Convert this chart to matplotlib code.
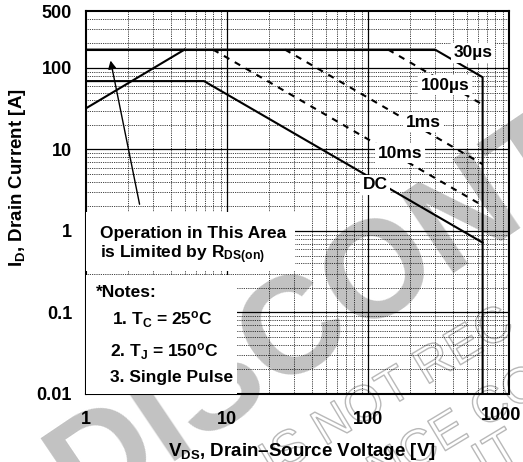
import matplotlib
matplotlib.use("Agg")
import matplotlib.pyplot as plt
import matplotlib.patheffects as pe
from matplotlib.patches import Rectangle
from matplotlib.ticker import LogLocator, NullFormatter, FixedLocator

plt.rcParams['font.family'] = ['Liberation Sans', 'DejaVu Sans']
plt.rcParams['font.weight'] = 'bold'
plt.rcParams['axes.labelweight'] = 'bold'
plt.rcParams['mathtext.fontset'] = 'custom'
plt.rcParams['mathtext.rm'] = 'Liberation Sans:bold'
plt.rcParams['mathtext.bf'] = 'Liberation Sans:bold'
plt.rcParams['mathtext.it'] = 'Liberation Sans:bold'

# limite por Rds(on)
rds_v = [1, 5.0]
rds_i = [32, 168]

# curvas de pulso (V, I)
v_30us = [1, 299, 650, 650]
i_30us = [168, 168, 77, 0.01]
v_100us = [139, 650]
i_100us = [168, 35.5]
v_1ms = [25.8, 650]
i_1ms = [168, 6.6]
v_10ms = [7.97, 650]
i_10ms = [168, 2.05]
v_dc = [1, 6.87, 650]
i_dc = [69, 69, 0.72]

curve_labels = ["30\u00b5s", "100\u00b5s", "1ms", "10ms", "DC"]
label_v = [556, 352, 246, 169, 112]
label_i = [153, 61.8, 21.7, 9.0, 3.67]

xticks = [1, 10, 100, 1000]
xticklabels = ["1", "10", "100", ""]
yticks = [0.01, 0.1, 1, 10, 100, 500]
yticklabels = ["0.01", "0.1", "1", "10", "100", "500"]

fig = plt.figure(figsize=(5.23, 4.62), dpi=100)
ax = fig.add_axes([86/523, 1-394/462, 423/523, 383/462])
ax.patch.set_alpha(0)

# marca d'agua
fig.text(84/523, 1-516/462, "DISCONTINUED", fontsize=99, color='#c2c2c2',
         rotation=34, rotation_mode='anchor', ha='left', va='baseline', zorder=-5)
outline = [pe.Stroke(linewidth=1.0, foreground='#b8b8b8')]
wm_lines = ["IS NOT REC", "NCE CO", "IT"]
wm_x = [272, 380, 485]
wm_y = [478, 490, 478]
for txt, x, y in zip(wm_lines, wm_x, wm_y):
    fig.text(x/523, 1-y/462, txt, fontsize=36, color=(1, 1, 1, 0),
             rotation=31, rotation_mode='anchor', ha='left', va='baseline',
             fontweight='normal', path_effects=outline, zorder=-4)

ax.set_xscale('log')
ax.set_yscale('log')
ax.set_xlim(1, 1000)
ax.set_ylim(0.01, 500)

ax.xaxis.set_major_locator(FixedLocator(xticks))
ax.set_xticklabels(xticklabels)
ax.yaxis.set_major_locator(FixedLocator(yticks))
ax.set_yticklabels(yticklabels)
ax.xaxis.set_minor_locator(LogLocator(base=10, subs=range(2, 10)))
ax.yaxis.set_minor_locator(LogLocator(base=10, subs=range(2, 10)))
ax.xaxis.set_minor_formatter(NullFormatter())
ax.yaxis.set_minor_formatter(NullFormatter())
ax.tick_params(which='both', length=0, labelsize=13)
ax.tick_params(axis='x', pad=12)
ax.tick_params(axis='y', pad=10)
# rotulo 1000 deslocado para caber na figura
ax.annotate("1000", xy=(1000, 0.01), xytext=(-8, -22), textcoords='offset pixels',
            fontsize=13, ha='center', va='center', annotation_clip=False)

ax.grid(which='minor', color='black', linestyle=(0, (1, 1.2)), linewidth=0.6)
for v in [10, 100]:
    ax.axvline(v, color='black', linewidth=0.9, zorder=1)
for i in [0.1, 1, 10, 100]:
    ax.axhline(i, color='black', linewidth=0.9, zorder=1)
for s in ax.spines.values():
    s.set_linewidth(1.5)

# caixas brancas das notas
ax.add_patch(Rectangle((0, 0.321), 0.494, 0.154, transform=ax.transAxes,
                       facecolor='white', edgecolor='none', zorder=3))
ax.add_patch(Rectangle((0, 0), 0.357, 0.311, transform=ax.transAxes,
                       facecolor='white', edgecolor='none', zorder=3))

lw = 1.5
ax.plot(rds_v, rds_i, color='black', linewidth=lw, zorder=4)
ax.plot([1, 299], [168, 168], color='black', linewidth=lw, zorder=4)
ax.plot(v_30us, i_30us, color='black', linewidth=lw, zorder=4)
ax.plot(v_100us, i_100us, color='black', linewidth=lw, linestyle=(0, (3, 3)), zorder=4)
ax.plot(v_1ms, i_1ms, color='black', linewidth=lw, linestyle=(0, (3, 3)), zorder=4)
ax.plot(v_10ms, i_10ms, color='black', linewidth=lw, linestyle=(0, (3, 3)), zorder=4)
ax.plot(v_dc, i_dc, color='black', linewidth=lw, zorder=4)

for lab, v, i in zip(curve_labels, label_v, label_i):
    ax.text(v, i, lab, fontsize=12.5, ha='center', va='center', zorder=6,
            bbox=dict(facecolor='white', edgecolor='none', pad=2))

ax.annotate("", xy=(1.48, 133), xytext=(2.42, 1.97), zorder=6,
            arrowprops=dict(arrowstyle='-|>', color='black', lw=1,
                            mutation_scale=12))

ax.text(0.033, 0.418, "Operation in This Area", transform=ax.transAxes,
        fontsize=12.5, ha='left', va='center', zorder=6)
ax.text(0.033, 0.363, r"is Limited by R$_{\mathrm{DS(on)}}$", transform=ax.transAxes,
        fontsize=12.5, ha='left', va='center', zorder=6)
ax.text(0.024, 0.266, "*Notes:", transform=ax.transAxes,
        fontsize=12.5, ha='left', va='center', zorder=6)
ax.text(0.061, 0.193, r"1. T$_{\mathrm{C}}$ = 25$^{\mathrm{o}}$C", transform=ax.transAxes,
        fontsize=12.5, ha='left', va='center', zorder=6)
ax.text(0.057, 0.110, r"2. T$_{\mathrm{J}}$ = 150$^{\mathrm{o}}$C", transform=ax.transAxes,
        fontsize=12.5, ha='left', va='center', zorder=6)
ax.text(0.057, 0.044, "3. Single Pulse", transform=ax.transAxes,
        fontsize=12.5, ha='left', va='center', zorder=6)

ax.set_xlabel("V$_{\\mathrm{DS}}$, Drain\u2013Source Voltage [V]", fontsize=13.5)
ax.set_ylabel("I$_{\\mathrm{D}}$, Drain Current [A]", fontsize=13.5)
ax.xaxis.set_label_coords(0.511, -0.15)
ax.xaxis.label.set_va('center')
ax.yaxis.set_label_coords(-0.163, 0.565)
ax.yaxis.label.set_va('center')

fig.savefig("out.png", dpi=100)
